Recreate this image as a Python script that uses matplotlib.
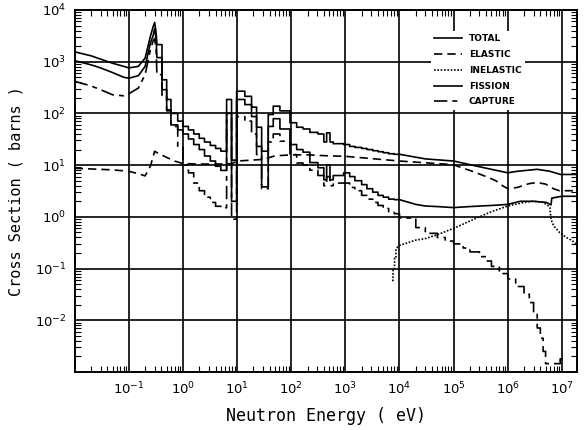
import numpy as np
import matplotlib
matplotlib.use('Agg')
import matplotlib.pyplot as plt

# thermal region, smooth curves (eV, barns)
low_e = [0.01, 0.02, 0.03, 0.05, 0.08, 0.1, 0.15, 0.2, 0.25, 0.28, 0.3, 0.32, 0.33]
total_low = [1549, 1300, 1122, 933, 813, 759, 813, 1175, 3090, 4700, 5750, 3550, 2140]
fission_low = [1047, 870, 759, 617, 501, 479, 537, 813, 2291, 3160, 4400, 2700, 1200]
capture_low = [417, 340, 288, 229, 219, 240, 309, 562, 1698, 2500, 2818, 1600, 562]

# group structure (bin edges, eV) for the stepped part
edges = [0.33, 0.41, 0.5, 0.6, 0.8, 1.0, 1.26, 1.58, 2.0, 2.5, 3.2, 4.0, 5.0, 6.4, 7.9,
         9.8, 13.9, 18.5, 22.9, 28.4, 37.6, 46.5, 61.8, 94.6, 126, 165, 221, 311, 400,
         451, 520, 597, 930, 1200, 1500, 2000, 2500, 3200, 4000, 5000, 6300, 8000, 10000]
total_grp = [2140, 447, 186, 100, 71,
             56, 48, 40, 33, 28, 24, 21, 18.6,
             186, 12.5,
             269, 214, 132, 54, 18.6, 95, 138, 112, 66, 54, 50, 43, 40, 28, 42, 28, 26,
             25, 23, 22, 21, 20, 19, 18.2, 17.4, 16.6, 16.2]
fission_grp = [1200, 288, 117, 60, 48,
               40, 32, 25, 20, 15, 12, 9.5, 7.9,
               100, 2.0,
               186, 148, 87, 23, 3.8, 56, 79, 50, 25, 20, 17.8, 11.2, 8.9, 5.2, 10, 5.2, 6.3,
               7.1, 6.0, 5.0, 4.2, 3.5, 3.0, 2.6, 2.4, 2.2, 2.15]
capture_grp = [562, 224, 112, 56, 22,
               10, 7.1, 4.5, 3.2, 2.4, 1.9, 1.6, 1.5,
               80, 0.9,
               87, 71, 40, 16, 3.5, 28, 40, 29, 16, 11, 10, 8, 6.3, 4.0, 6.0, 4.0, 4.5,
               4.5, 3.7, 3.2, 2.6, 2.2, 1.9, 1.66, 1.45, 1.26, 1.15]

# fast region
total_hi_e = [1e4, 3e4, 1e5, 3e5, 1e6, 1.5e6, 3.5e6, 6e6, 9.4e6, 2e7]
total_hi = [16.2, 13.2, 12.0, 9.3, 7.1, 7.6, 8.3, 7.6, 6.6, 6.6]
fission_hi_e = [1e4, 2e4, 3e4, 5e4, 1e5, 2e5, 5e5, 1e6, 1.7e6, 3e6, 5.2e6, 6.3e6, 6.5e6, 1e7, 2e7]
fission_hi = [2.15, 1.74, 1.62, 1.58, 1.51, 1.58, 1.66, 1.74, 2.0, 2.0, 1.9, 1.7, 2.3, 2.5, 2.5]
capture_hi_edges = [1e4, 2e4, 3e4, 5e4, 7e4, 1e5, 1.5e5, 2e5, 3e5, 4e5, 5e5, 7e5, 1e6, 1.4e6,
                    2e6, 2.5e6, 3e6, 3.5e6, 4e6, 4.5e6, 5e6, 9.3e6, 1.1e7]
capture_hi = [0.95, 0.62, 0.48, 0.40, 0.34, 0.30, 0.25, 0.21, 0.17, 0.14, 0.11, 0.08, 0.063,
              0.045, 0.032, 0.022, 0.014, 0.0071, 0.0045, 0.0025, 0.00145, 0.0018]

elastic_e = [0.01, 0.05, 0.1, 0.15, 0.2, 0.25, 0.3, 0.33, 0.4, 0.5, 0.7, 1.0, 2, 5, 8, 10, 30,
             50, 100, 200, 500, 1000, 1e4, 1e5, 1.4e5, 2e5, 4e5, 6e5, 8e5, 1e6, 1.5e6, 2.5e6,
             3.5e6, 5e6, 7e6, 9e6, 2e7]
elastic = [8.7, 8.1, 7.6, 6.8, 6.2, 9.5, 18.6, 17.4, 15.8, 14.1, 12.0, 10.7, 10.5, 10.5, 10.7,
           12.0, 12.9, 15.1, 15.8, 15.8, 15.1, 14.8, 12.0, 10.2, 8.9, 7.9, 6.0, 5.0, 4.0, 3.5,
           3.7, 4.4, 4.6, 4.3, 3.5, 3.2, 3.2]

inelastic_e = [7.3e3, 7.6e3, 7.6e3, 8.1e3, 8.1e3, 8.6e3, 8.6e3, 9.2e3, 1e4, 2e4, 3e4, 5e4, 1e5,
               2e5, 3e5, 5e5, 1e6, 2e6, 3e6, 4.5e6, 5.5e6, 6e6, 6.3e6, 7e6, 9e6, 1.2e7, 1.5e7, 2e7]
inelastic = [0.059, 0.059, 0.10, 0.10, 0.16, 0.16, 0.24, 0.26, 0.28, 0.355, 0.38, 0.45, 0.60,
             0.83, 1.0, 1.26, 1.62, 1.9, 2.0, 1.9, 1.66, 1.51, 0.89, 0.68, 0.50, 0.40, 0.355, 0.275]


def stairs(e, v):
    x = np.repeat(np.asarray(e, float), 2)[1:-1]
    y = np.repeat(np.asarray(v, float), 2)
    return x, y


def join(*parts):
    xs = np.concatenate([np.asarray(p[0], float) for p in parts])
    ys = np.concatenate([np.asarray(p[1], float) for p in parts])
    return xs, ys


tot = join((low_e, total_low), stairs(edges, total_grp), (total_hi_e, total_hi))
fis = join((low_e, fission_low), stairs(edges, fission_grp), (fission_hi_e, fission_hi))
cap = join((low_e, capture_low), stairs(edges, capture_grp), stairs(capture_hi_edges, capture_hi))

fig = plt.figure(figsize=(5.85, 4.3), dpi=100)
ax = fig.add_axes([0.1277, 0.1349, 0.8586, 0.8419])

lw = 1.2
ax.plot(*tot, color='black', lw=lw, label='TOTAL')
ax.plot(elastic_e, elastic, color='black', lw=lw, ls=(0, (5, 3)), label='ELASTIC')
ax.plot(inelastic_e, inelastic, color='black', lw=lw, ls=(0, (1, 1)), label='INELASTIC')
ax.plot(*fis, color='black', lw=lw, label='FISSION')
ax.plot(*cap, color='black', lw=lw, ls=(0, (8, 3, 3, 3)), label='CAPTURE')

ax.set_xscale('log')
ax.set_yscale('log')
ax.set_xlim(1e-2, 1.9e7)
ax.set_ylim(1e-3, 1e4)
ax.set_xticks([10.0 ** k for k in range(-1, 8)])
ax.set_yticks([10.0 ** k for k in range(-2, 5)])
ax.grid(True, which='major', color='black', lw=1.2)
ax.tick_params(which='both', direction='in', top=True, right=True, labelsize=9.5)
ax.tick_params(which='major', length=0, pad=6)
ax.tick_params(which='minor', length=4, width=0.8)
for s in ax.spines.values():
    s.set_linewidth(1.4)

ax.set_xlabel('Neutron Energy ( eV)', fontsize=12, family='DejaVu Sans Mono', labelpad=7)
ax.set_ylabel('Cross Section ( barns )', fontsize=11, family='DejaVu Sans Mono', labelpad=8)

ax.legend(loc='upper left', bbox_to_anchor=(0.70, 0.955), frameon=True, edgecolor='none',
          facecolor='white', framealpha=1, fancybox=False, handlelength=3.0,
          labelspacing=0.75, prop={'size': 6.5, 'weight': 'bold'})

fig.savefig('out.png', dpi=100)
